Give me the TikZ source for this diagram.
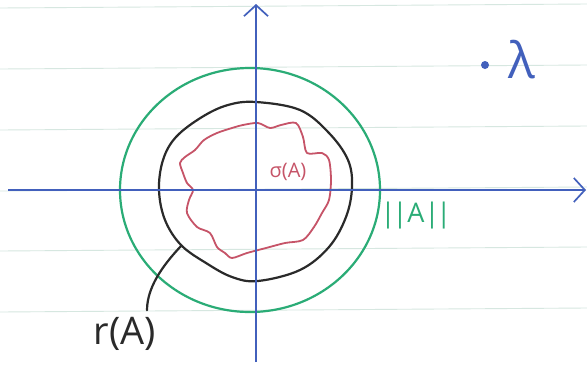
\documentclass[tikz,border=0pt]{standalone}
\usepackage{fontspec}
\setmainfont{Open Sans}
\definecolor{skblue}{RGB}{66,96,188}
\definecolor{skgreen}{RGB}{42,172,118}
\definecolor{skred}{RGB}{198,84,104}
\definecolor{skblack}{RGB}{42,42,42}
\definecolor{skrule}{RGB}{214,231,224}
\usetikzlibrary{arrows.meta}
\begin{document}
\begin{tikzpicture}[x=1pt, y=-1pt,
        axisline/.style={-{Straight Barb[length=11pt,width=24pt]}, line width=1.7pt, skblue},
        ruling/.style={line width=0.9pt, skrule},
        pen/.style={line width=2.2pt, line cap=round, line join=round},
        lbl/.style={inner sep=0pt}
      ]
        \useasboundingbox[fill=white] (0,0) rectangle (587,365);
        \foreach \y in {6,67,128,189,249,310}
          \draw[ruling] (0,\y+2) -- (587,\y-2);

        \draw[pen, skgreen] (250,190) ellipse [x radius=130, y radius=122];
        \draw[pen, skblack] plot[smooth cycle, tension=0.6] coordinates {
          (256,102) (300,110) (329,133) (348,160) (352,187) (346,217) (329,247)
          (300,270) (258,281) (232,277) (206,263) (181,245) (165,220) (159,190)
          (163,160) (176,137) (202,117) (228,105)};
        \draw[pen, skred, line width=1.8pt] plot[smooth cycle, tension=0.5] coordinates {
          (217,133) (232,128) (243,125) (258,123) (270,128) (281,125) (296,123)
          (303,137) (307,153) (322,153) (329,160) (331,180) (329,200) (322,213)
          (314,227) (303,240) (285,243) (266,248) (247,253) (232,258) (225,253)
          (217,247) (210,233) (197,227) (187,213) (189,200) (193,190) (187,183)
          (183,173) (180,163) (185,157) (195,150) (204,140)};

        \coordinate (xl) at (8,190);
        \coordinate (xr) at (586,190);
        \coordinate (yb) at (256,362);
        \coordinate (yt) at (256,4);
        \coordinate (rA) at (181,246);
        \draw[axisline] (xl) -- (xr);
        \draw[axisline] (yb) -- (yt);

        \node[lbl, skred, font=\fontsize{20}{20}\selectfont]     (sig) at (288,172) {σ(A)};
        \node[lbl, skgreen, font=\fontsize{27}{27}\selectfont]   (nrm) at (416,216) {|\kern-3pt|A|\kern-3pt|};
        \node[lbl, skblack, font=\fontsize{38}{38}\selectfont]   (rad) at (125,334) {r(A)};
        \node[circle, fill=skblue, inner sep=0pt, minimum size=8pt] (dot) at (485,65) {};
        \node[lbl, skblue, font=\fontsize{50}{50}\selectfont]    (lam) at (522,60) {λ};

        \draw[pen, skblack] (rA) .. controls (168,260) and (147,284) .. ([xshift=22pt, yshift=7pt]rad.north);
      \end{tikzpicture}
\end{document}
